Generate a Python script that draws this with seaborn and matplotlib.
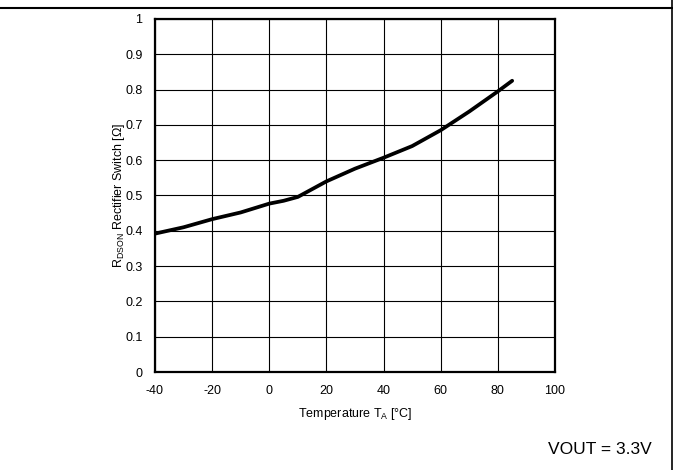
import numpy as np
import pandas as pd
import matplotlib
matplotlib.use("Agg")
import matplotlib.pyplot as plt
import seaborn as sns
from matplotlib.lines import Line2D

# RDSON of rectifier switch vs temperature, VOUT = 3.3V
temp = [-40, -30, -20, -10, 0, 5, 10, 20, 30, 40, 50, 60, 70, 80, 85]
rdson = [0.392, 0.410, 0.433, 0.452, 0.477, 0.485, 0.496, 0.540, 0.576, 0.607, 0.640, 0.685, 0.738, 0.795, 0.825]

x_ticks = [-40, -20, 0, 20, 40, 60, 80, 100]
y_ticks = [0, 0.1, 0.2, 0.3, 0.4, 0.5, 0.6, 0.7, 0.8, 0.9, 1]
y_labels = ["0", "0.1", "0.2", "0.3", "0.4", "0.5", "0.6", "0.7", "0.8", "0.9", "1"]

df = pd.DataFrame({"temp": temp, "rdson": rdson})

sns.set_theme(style="white")
plt.rcParams["font.family"] = ["Liberation Sans", "DejaVu Sans"]
plt.rcParams["mathtext.fontset"] = "custom"
plt.rcParams["mathtext.rm"] = "Liberation Sans"

fig = plt.figure(figsize=(6.73, 4.70), dpi=100)
ax = fig.add_axes([0.2303, 0.2085, 0.5944, 0.7511])

sns.lineplot(data=df, x="temp", y="rdson", ax=ax, color="black", linewidth=2.7,
             solid_capstyle="round", solid_joinstyle="round", zorder=3)

ax.set_xlim(-40, 100)
ax.set_ylim(0, 1)
ax.set_xticks(x_ticks)
ax.set_xticklabels([str(t) for t in x_ticks])
ax.set_yticks(y_ticks)
ax.set_yticklabels(y_labels)
ax.grid(True, color="black", linewidth=0.8)
ax.tick_params(axis="x", length=0, labelsize=9, colors="black", pad=9)
ax.tick_params(axis="y", length=0, labelsize=9, colors="black", pad=9)
for s in ax.spines.values():
    s.set_color("black")
    s.set_linewidth(1.6)

ax.set_xlabel(r"Temperature T$_{\mathrm{A}}$ [°C]", fontsize=9, color="black", labelpad=7)
ax.set_ylabel(r"R$_{\mathrm{DSON}}$ Rectifier Switch [Ω]", fontsize=9, color="black", labelpad=-1)

# surrounding frame lines
fig.add_artist(Line2D([0, 1], [1 - 7.5 / 470, 1 - 7.5 / 470], transform=fig.transFigure,
                      color="black", linewidth=1.5))
fig.add_artist(Line2D([671.5 / 673, 671.5 / 673], [0, 1], transform=fig.transFigure,
                      color="black", linewidth=1.2))

fig.text(600 / 673, 1 - 449 / 470, "VOUT = 3.3V", fontsize=12.5, ha="center", va="center", color="black")

fig.savefig("out.png", dpi=100)
